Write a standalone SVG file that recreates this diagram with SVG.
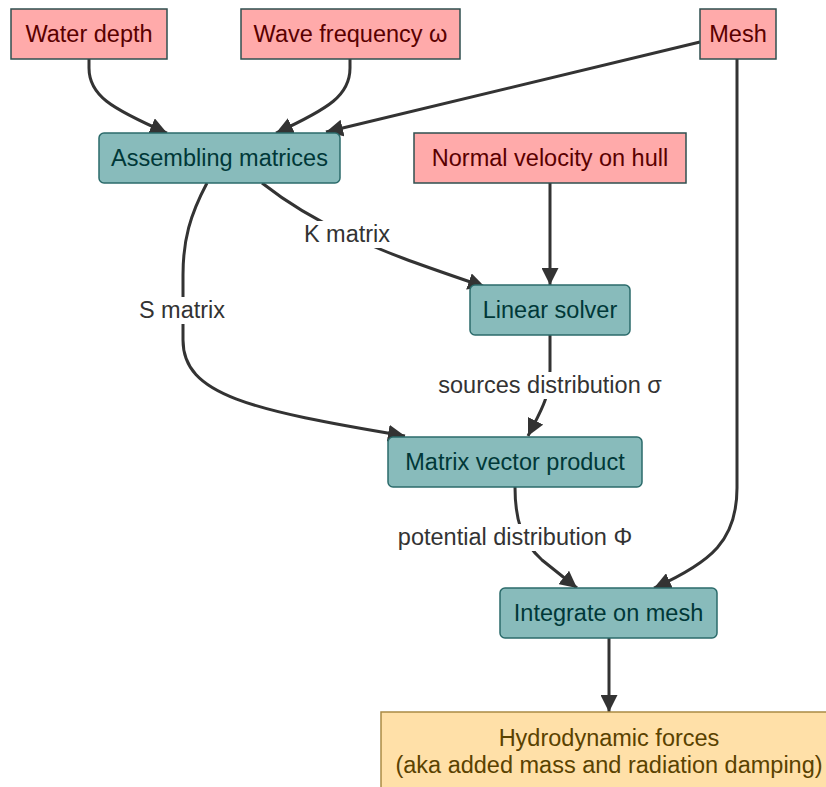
<svg xmlns="http://www.w3.org/2000/svg" width="826" height="787" viewBox="0 0 826 787">
<style>
  text { font-family: "Liberation Sans", Arial, sans-serif; font-size: 23.5px; text-anchor: middle; }
  .in rect { fill: #FFAAAA; stroke: #2F4F4F; stroke-width: 1.5; }
  .in text { fill: #5A0000; }
  .proc rect { fill: #88BBBB; stroke: #2B6B6B; stroke-width: 1.5; }
  .proc text { fill: #003838; }
  .out rect { fill: #FFE0A8; stroke: #AA8A44; stroke-width: 1.5; }
  .out text { fill: #5A4200; }
  .edge { fill: none; stroke: #333333; stroke-width: 3; marker-end: url(#arrow); }
  .lbl rect { fill: #FFFFFF; }
  .lbl text { fill: #333333; }
</style>
<defs>
  <marker id="arrow" viewBox="0 0 10 10" refX="10" refY="5" markerWidth="17" markerHeight="17" markerUnits="userSpaceOnUse" orient="auto">
    <path d="M0,0 L10,5 L0,10 z" fill="#333333"/>
  </marker>
</defs>
<rect width="826" height="787" fill="#FFFFFF"/>

<g id="connectors">
  <path class="edge" d="M89,59 L89,68 C89,95 110,108 167,133"/>
  <path class="edge" d="M350,59 L350,68 C350,95 330,108 276,133"/>
  <path class="edge" d="M700,42 L326,132"/>
  <path class="edge" d="M737,59 L737,488 C737,540 712,562 654,588"/>
  <path class="edge" d="M550,183 L550,285"/>
  <path class="edge" d="M262,183 C290,205 320,222 348,235 C390,255 430,268 485,287"/>
  <path class="edge" d="M207,183 C190,215 183,240 183,275 L183,340 C183,395 250,410 405,436"/>
  <path class="edge" d="M550,335 L550,370 C550,398 540,412 528,436"/>
  <path class="edge" d="M515,487 C515,520 522,542 542,560 L577,588"/>
  <path class="edge" d="M609,638 L609,712"/>
  <g class="lbl">
    <rect x="300" y="221" width="95" height="27"/>
    <text x="347" y="242">K matrix</text>
    <rect x="134" y="297" width="96" height="27"/>
    <text x="182" y="318">S matrix</text>
    <rect x="431" y="372" width="238" height="27"/>
    <text x="550" y="393">sources distribution σ</text>
    <rect x="384" y="524" width="262" height="27"/>
    <text x="515" y="545">potential distribution Φ</text>
  </g>
</g>

<g id="water_depth" class="in">
  <rect x="11" y="9" width="156" height="50"/>
  <text x="89" y="42">Water depth</text>
</g>
<g id="wave_frequency" class="in">
  <rect x="241" y="9" width="219" height="50"/>
  <text x="350.5" y="42">Wave frequency ω</text>
</g>
<g id="mesh" class="in">
  <rect x="700" y="9" width="76" height="50"/>
  <text x="738" y="42">Mesh</text>
</g>
<g id="normal_velocity" class="in">
  <rect x="414" y="133" width="272" height="50"/>
  <text x="550" y="166">Normal velocity on hull</text>
</g>
<g id="assembling" class="proc">
  <rect x="99" y="133" width="241" height="50" rx="5"/>
  <text x="219.5" y="166">Assembling matrices</text>
</g>
<g id="linear_solver" class="proc">
  <rect x="470" y="285" width="160" height="50" rx="5"/>
  <text x="550" y="318">Linear solver</text>
</g>
<g id="matrix_vector" class="proc">
  <rect x="388" y="437" width="254" height="50" rx="5"/>
  <text x="515" y="470">Matrix vector product</text>
</g>
<g id="integrate" class="proc">
  <rect x="500" y="588" width="217" height="50" rx="5"/>
  <text x="608.5" y="621">Integrate on mesh</text>
</g>
<g id="hydro_forces" class="out">
  <rect x="381" y="712" width="456" height="80"/>
  <text x="609" y="746">Hydrodynamic forces</text>
  <text x="609" y="773">(aka added mass and radiation damping)</text>
</g>
</svg>
